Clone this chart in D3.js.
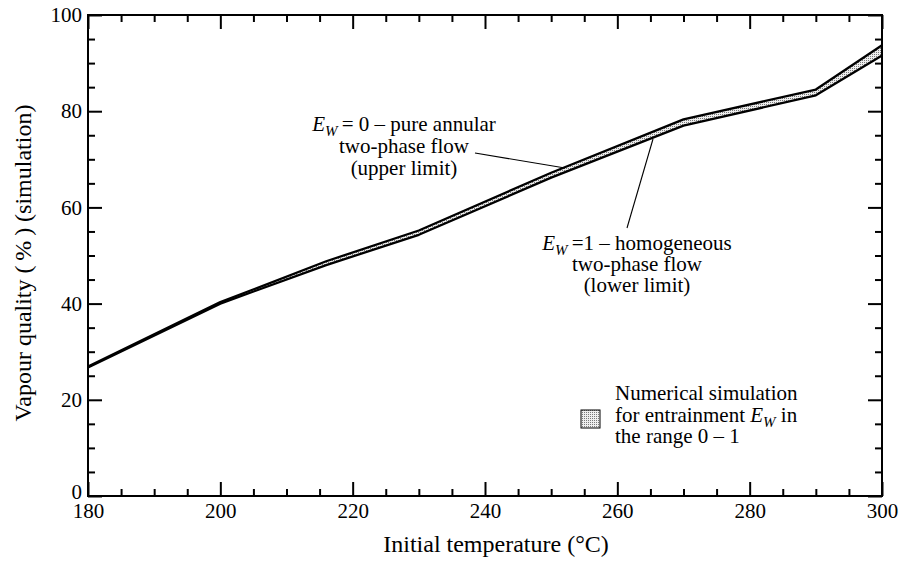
<!DOCTYPE html>
<html><head><meta charset="utf-8">
<script src="https://cdn.jsdelivr.net/npm/d3@7"></script>
<style>body{margin:0;background:#fff}svg{display:block}svg text{font-family:"Liberation Serif","Times New Roman",serif !important}</style>
</head><body><svg id="c" width="899" height="564"></svg>
<script>
// ---- data ----
const temps = [180, 200, 216, 230, 250, 270, 290, 300];
const upperLimit = [26.9, 40.3, 48.8, 55.2, 67.2, 78.3, 84.5, 93.7];
const lowerLimit = [26.7, 40.0, 48.0, 54.3, 66.2, 77.0, 83.3, 91.6];
const xMajorTicks = [180, 200, 220, 240, 260, 280, 300];
const yMajorTicks = [0, 20, 40, 60, 80, 100];
const xTitle = "Initial temperature (\u00B0C)";
const yTitle = "Vapour quality (\u2009%\u2009) (simulation)";
const upperNote = ["= 0 \u2013 pure annular", "two-phase flow", "(upper limit)"];
const lowerNote = ["=1 \u2013 homogeneous", "two-phase flow", "(lower limit)"];
const legendLines = ["Numerical simulation", "for entrainment ", "the range 0 \u2013 1"];

const FONT = "Liberation Serif";
const svg = d3.select("#c").attr("font-family", FONT);
const M = {l: 88, r: 882, t: 15, b: 496};
const x = d3.scaleLinear().domain([180, 300]).range([M.l, M.r]);
const y = d3.scaleLinear().domain([0, 100]).range([M.b, M.t]);

// stipple pattern
const defs = svg.append("defs");
const pat = defs.append("pattern").attr("id", "stip").attr("patternUnits", "userSpaceOnUse")
  .attr("width", 2).attr("height", 2);
pat.append("rect").attr("width", 2).attr("height", 2).attr("fill", "#eeeeee");
pat.append("rect").attr("width", 1).attr("height", 1).attr("fill", "#7a7a7a");

const data = temps.map((t, i) => ({t, u: upperLimit[i], l: lowerLimit[i]}));

// band
svg.append("path").datum(data)
  .attr("d", d3.area().x(d => x(d.t)).y0(d => y(d.l)).y1(d => y(d.u)))
  .attr("fill", "url(#stip)");
svg.append("path").datum(data)
  .attr("d", d3.line().x(d => x(d.t)).y(d => y(d.u)))
  .attr("fill", "none").attr("stroke", "#000").attr("stroke-width", 2.3).attr("stroke-linejoin", "round");
svg.append("path").datum(data)
  .attr("d", d3.line().x(d => x(d.t)).y(d => y(d.l)))
  .attr("fill", "none").attr("stroke", "#000").attr("stroke-width", 2.3).attr("stroke-linejoin", "round");

// axes
const xMinor = d3.range(180, 301, 5).filter(v => v % 20 !== 0);
const yMinor = d3.range(0, 101, 5).filter(v => v % 20 !== 0);
function styleAxis(g) {
  g.attr("font-family", FONT).attr("font-size", 21);
  g.select(".domain").remove();
  g.selectAll("line").attr("stroke", "#000").attr("stroke-width", 2);
  g.selectAll("text").attr("fill", "#000");
}
// bottom
svg.append("g").attr("transform", `translate(0,${M.b})`)
  .call(d3.axisBottom(x).tickValues(xMajorTicks).tickSize(-14).tickPadding(7).tickFormat(d3.format("d")))
  .call(styleAxis);
svg.append("g").attr("transform", `translate(0,${M.b})`)
  .call(d3.axisBottom(x).tickValues(xMinor).tickSize(-7).tickFormat(""))
  .call(styleAxis);
// top
svg.append("g").attr("transform", `translate(0,${M.t})`)
  .call(d3.axisTop(x).tickValues(xMajorTicks).tickSize(-14).tickFormat(""))
  .call(styleAxis);
svg.append("g").attr("transform", `translate(0,${M.t})`)
  .call(d3.axisTop(x).tickValues(xMinor).tickSize(-7).tickFormat(""))
  .call(styleAxis);
// left
svg.append("g").attr("transform", `translate(${M.l},0)`)
  .call(d3.axisLeft(y).tickValues(yMajorTicks).tickSize(-14).tickPadding(6).tickFormat(d3.format("d")))
  .call(styleAxis)
  .call(g => g.selectAll(".tick").filter(d => d === 0).select("text").attr("dy", "0.12em"));
svg.append("g").attr("transform", `translate(${M.l},0)`)
  .call(d3.axisLeft(y).tickValues(yMinor).tickSize(-7).tickFormat(""))
  .call(styleAxis);
// right
svg.append("g").attr("transform", `translate(${M.r},0)`)
  .call(d3.axisRight(y).tickValues(yMajorTicks).tickSize(-14).tickFormat(""))
  .call(styleAxis);
svg.append("g").attr("transform", `translate(${M.r},0)`)
  .call(d3.axisRight(y).tickValues(yMinor).tickSize(-7).tickFormat(""))
  .call(styleAxis);

// frame
svg.append("rect").attr("x", M.l).attr("y", M.t).attr("width", M.r - M.l).attr("height", M.b - M.t)
  .attr("fill", "none").attr("stroke", "#000").attr("stroke-width", 2);

// axis titles
svg.append("text").attr("x", 496).attr("y", 552).attr("text-anchor", "middle")
  .attr("font-size", 24).text(xTitle);
svg.append("text").attr("transform", "translate(31,263) rotate(-90)").attr("text-anchor", "middle")
  .attr("font-size", 24).text(yTitle);

// annotations
function ewLabel(g, rest) {
  g.append("tspan").attr("font-style", "italic").text("E");
  g.append("tspan").attr("font-style", "italic").attr("font-size", 15).attr("dy", 5).text("W");
  g.append("tspan").attr("dy", -5).text(rest);
}
function note(lines, cx, y0, dy) {
  const g = svg.append("g").attr("font-size", 21);
  lines.forEach((s, i) => {
    const t = g.append("text").attr("x", cx).attr("y", y0 + i * dy).attr("text-anchor", "middle");
    if (i === 0) ewLabel(t, "\u2009" + s); else t.text(s);
  });
}
note(upperNote, 404, 131, 22);
note(lowerNote, 637, 250, 21);
// leaders
svg.append("line").attr("x1", 475).attr("y1", 153).attr("x2", 565).attr("y2", 168)
  .attr("stroke", "#000").attr("stroke-width", 1.1);
svg.append("line").attr("x1", 627).attr("y1", 228).attr("x2", 653).attr("y2", 139)
  .attr("stroke", "#000").attr("stroke-width", 1.1);

// legend
svg.append("rect").attr("x", 581).attr("y", 410).attr("width", 19).attr("height", 18)
  .attr("fill", "url(#stip)").attr("stroke", "#000").attr("stroke-width", 1);
const lg = svg.append("g").attr("font-size", 21);
lg.append("text").attr("x", 615).attr("y", 400).text(legendLines[0]);
const l2 = lg.append("text").attr("x", 615).attr("y", 422);
l2.append("tspan").text(legendLines[1]);
l2.append("tspan").attr("font-style", "italic").text("E");
l2.append("tspan").attr("font-style", "italic").attr("font-size", 15).attr("dy", 5).text("W");
l2.append("tspan").attr("dy", -5).text(" in");
lg.append("text").attr("x", 615).attr("y", 443).text(legendLines[2]);
</script>
</body></html>
